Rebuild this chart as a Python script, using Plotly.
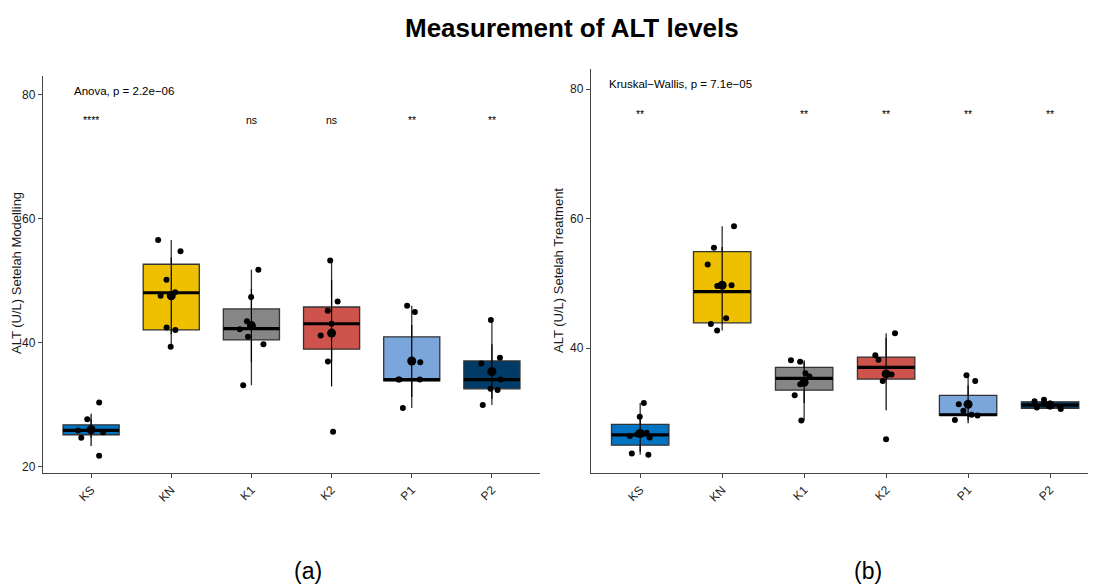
import plotly.graph_objects as go

groups = ["KS", "KN", "K1", "K2", "P1", "P2"]
colors = ["#0073C2", "#EFC000", "#868686", "#CD534C", "#7AA6DC", "#003C67"]

# Panel (a) - ALT after modelling
a_q1 = [25.2, 42.1, 40.5, 39.0, 33.9, 32.6]
a_median = [25.9, 48.1, 42.3, 43.1, 34.1, 34.1]
a_q3 = [26.8, 52.7, 45.5, 45.8, 41.0, 37.1]
a_lower = [24.7, 39.4, 33.2, 37.0, 29.5, 30.0]
a_upper = [27.7, 56.6, 51.8, 53.3, 46.0, 43.7]
a_mean = [26.0, 47.6, 42.8, 41.6, 37.1, 35.4]
a_sd = [2.6, 6.2, 5.9, 8.6, 5.8, 4.4]
a_points = [
    [30.4, 27.7, 25.9, 25.6, 24.7, 21.8],
    [56.6, 54.8, 50.2, 48.2, 47.6, 42.5, 42.1, 39.4],
    [51.8, 47.4, 43.5, 42.2, 41.0, 39.8, 33.2],
    [53.3, 46.7, 45.2, 43.1, 41.2, 37.0, 25.7],
    [46.0, 45.0, 36.9, 34.1, 34.1, 34.1, 29.5],
    [43.7, 37.6, 36.7, 34.1, 32.6, 32.4, 30.0],
]
a_sig = ["****", "", "ns", "ns", "**", "**"]
a_test = "Anova, p = 2.2e\u221206"
a_ytitle = "ALT (U/L) Setelah Modelling"

# Panel (b) - ALT after treatment
b_q1 = [25.0, 43.9, 33.5, 35.2, 29.6, 30.7]
b_median = [26.6, 48.7, 35.3, 37.0, 29.7, 31.2]
b_q3 = [28.2, 54.9, 37.0, 38.6, 32.7, 31.7]
b_lower = [23.5, 42.7, 28.8, 34.9, 28.9, 30.5]
b_upper = [31.5, 58.8, 38.1, 42.3, 35.8, 31.9]
b_mean = [26.8, 49.7, 34.7, 36.0, 31.3, 31.2]
b_sd = [2.8, 5.9, 3.2, 5.6, 2.9, 0.5]
b_points = [
    [31.5, 29.4, 26.9, 26.7, 26.4, 26.2, 23.7, 23.5],
    [58.8, 55.5, 52.9, 49.7, 49.6, 44.6, 43.7, 42.7],
    [38.1, 37.9, 36.1, 35.6, 34.7, 34.4, 32.7, 28.8],
    [42.3, 38.9, 38.2, 36.0, 35.9, 34.9, 25.9],
    [35.8, 34.9, 31.3, 30.3, 29.7, 29.6, 28.9],
    [32.0, 31.8, 31.4, 31.1, 30.9, 30.8, 30.6],
]
b_sig = ["**", "", "**", "**", "**", "**"]
b_test = "Kruskal\u2212Wallis, p = 7.1e\u221205"
b_ytitle = "ALT (U/L) Setelah Treatment"

title_text = "Measurement of ALT levels"

FONT = "Liberation Sans, Arial, sans-serif"
BOXW = 0.7

fig = go.Figure()


def add_panel(xa, ya, q1, med, q3, lo, hi, mean, sd, pts):
    for i, g in enumerate(groups):
        fig.add_trace(go.Box(
            x=[g], q1=[q1[i]], median=[med[i]], q3=[q3[i]],
            lowerfence=[lo[i]], upperfence=[hi[i]],
            width=BOXW, whiskerwidth=0, fillcolor=colors[i],
            line=dict(color="#333333", width=1.3), boxpoints=False,
            xaxis=xa, yaxis=ya, hoverinfo="skip"))
        # thick median line
        fig.add_trace(go.Box(
            x=[g], q1=[med[i]], median=[med[i]], q3=[med[i]],
            lowerfence=[med[i]], upperfence=[med[i]],
            width=BOXW, whiskerwidth=0, fillcolor="rgba(0,0,0,0)",
            line=dict(color="black", width=3.2), boxpoints=False,
            xaxis=xa, yaxis=ya, hoverinfo="skip"))
    # mean +/- sd
    fig.add_trace(go.Scatter(
        x=groups, y=mean, mode="markers",
        marker=dict(color="black", size=9),
        error_y=dict(type="data", array=sd, width=0, thickness=1.2, color="black"),
        xaxis=xa, yaxis=ya, hoverinfo="skip"))
    # jittered raw points
    xs, ys = [], []
    for g, p in zip(groups, pts):
        xs += [g] * len(p)
        ys += p
    fig.add_trace(go.Box(
        x=xs, y=ys, boxpoints="all", jitter=0.55, pointpos=0,
        width=BOXW, fillcolor="rgba(0,0,0,0)", line=dict(width=0),
        marker=dict(color="black", size=6),
        xaxis=xa, yaxis=ya, hoverinfo="skip"))


add_panel("x", "y", a_q1, a_median, a_q3, a_lower, a_upper, a_mean, a_sd, a_points)
add_panel("x2", "y2", b_q1, b_median, b_q3, b_lower, b_upper, b_mean, b_sd, b_points)

# page body has an 8px margin: lay the figure out in screen pixels minus that offset
OFF = 8
W, H = 1096 - OFF, 588 - OFF


def px(x):
    return (x - OFF) / W


def py(y):
    return 1 - (y - OFF) / H


axis_common = dict(showline=True, linecolor="#444444", linewidth=1.3,
                   ticks="outside", ticklen=4, tickcolor="#444444",
                   showgrid=False, zeroline=False,
                   tickfont=dict(family=FONT, size=12, color="#1a1a1a"))

xcommon = dict(axis_common, type="category", categoryorder="array",
               categoryarray=groups, tickangle=-45)

fig.update_layout(
    width=W, height=H, autosize=False,
    margin=dict(l=0, r=0, t=0, b=0),
    paper_bgcolor="white", plot_bgcolor="white",
    showlegend=False, boxmode="overlay",
    font=dict(family=FONT, color="black"),
    xaxis=dict(xcommon, domain=[px(43), px(540)], range=[-0.6, 5.6], anchor="y"),
    yaxis=dict(axis_common, domain=[py(473), py(76)], range=[19.03, 83.06],
               tickvals=[20, 40, 60, 80], anchor="x"),
    xaxis2=dict(xcommon, domain=[px(591), 1.0], range=[-0.6, 5.56], anchor="y2"),
    yaxis2=dict(axis_common, domain=[py(473), py(69)], range=[20.7, 83.1],
                tickvals=[20, 40, 60, 80], anchor="x2"),
)

ann = []
for i, s in enumerate(a_sig):
    if s:
        ann.append(dict(x=i, y=76.0, xref="x", yref="y", text=s, showarrow=False,
                        font=dict(family=FONT, size=10.5, color="black")))
for i, s in enumerate(b_sig):
    if s:
        ann.append(dict(x=i, y=76.1, xref="x2", yref="y2", text=s, showarrow=False,
                        font=dict(family=FONT, size=10.5, color="black")))
ann.append(dict(x=-0.24, y=80.6, xref="x", yref="y", text=a_test, showarrow=False,
                xanchor="left", font=dict(family=FONT, size=11.5, color="black")))
ann.append(dict(x=-0.40, y=80.8, xref="x2", yref="y2", text=b_test, showarrow=False,
                xanchor="left", font=dict(family=FONT, size=11.5, color="black")))
paper_ann = [
    dict(x=px(16), y=py(273), text=a_ytitle, textangle=-90,
         font=dict(family=FONT, size=13, color="#1a1a1a")),
    dict(x=px(558), y=py(271), text=b_ytitle, textangle=-90,
         font=dict(family=FONT, size=13, color="#1a1a1a")),
    dict(x=px(572), y=py(28), text="<b>" + title_text + "</b>",
         font=dict(family=FONT, size=26, color="black")),
    dict(x=px(308), y=py(571), text="(a)",
         font=dict(family=FONT, size=23, color="black")),
    dict(x=px(868), y=py(571), text="(b)",
         font=dict(family=FONT, size=23, color="black")),
]
for a in paper_ann:
    a.update(xref="paper", yref="paper", xanchor="center", yanchor="middle",
             showarrow=False)
    ann.append(a)
fig.update_layout(annotations=ann)

fig.write_html("out.html")
